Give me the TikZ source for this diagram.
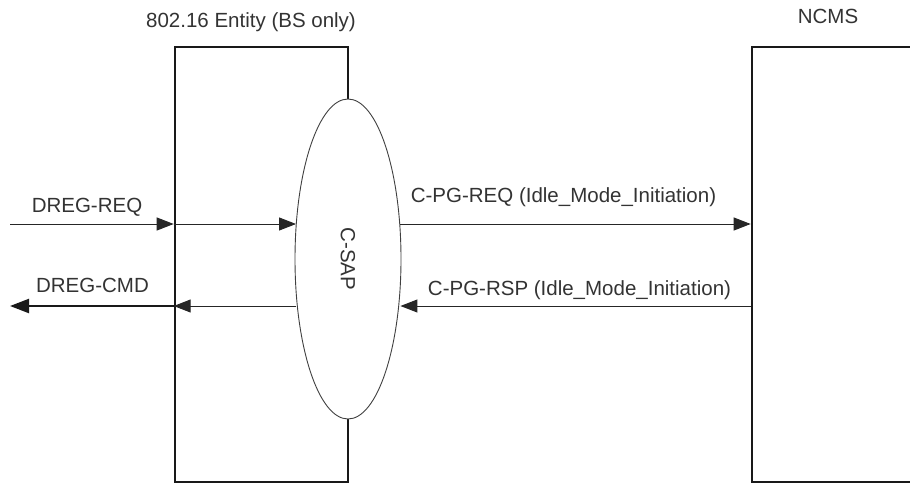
\documentclass[tikz,border=0pt]{standalone}
\usepackage{fontspec}
\setmainfont{Liberation Sans}
\usetikzlibrary{arrows.meta,shapes.geometric}
\begin{document}
\begin{tikzpicture}[x=1pt,y=-1pt,
  lbl/.style={text=black!80,font=\fontsize{20.5}{24}\selectfont,inner sep=0pt,anchor=base},
  entity/.style={draw=black!90,line width=2.6pt,rectangle,inner sep=0pt},
  sap/.style={draw=black!75,line width=0.9pt,fill=white,ellipse,inner sep=0pt,minimum width=106pt,minimum height=320pt},
  msg/.style={draw=black!85,line width=1pt,-{Triangle[length=17pt,width=13pt]}},
  msgthick/.style={draw=black!90,line width=2.2pt,-{Triangle[length=19pt,width=14pt]}}]
\useasboundingbox (0,0) rectangle (910,485);
\clip (0,0) rectangle (910,485);
% boxes
\node[entity,minimum width=173pt,minimum height=435pt] (bs) at (261.5,264.5) {};
\node[entity,minimum width=260pt,minimum height=435pt] (ncms) at (882,264.5) {};
\node[sap] (csap) at (348,259) {};
\node[lbl,anchor=center,rotate=-90] (csaptext) at (csap.center) {C-SAP};
% titles
\node[lbl] (bstitle) at (251,27) {802.16 Entity (BS only)};
\node[lbl] (ncmstitle) at (828,23) {NCMS};
% end points
\coordinate (reqin) at (10,224);
\coordinate (cmdout) at (10,306);
% messages
\draw[msg] (reqin) -- (bs.west |- reqin);
\draw[msg] (bs.west |- reqin) -- ([xshift=1.5pt]csap.west |- reqin);
\draw[msg] ([xshift=-1.5pt]csap.east |- reqin) -- (ncms.west |- reqin);
\draw[msg] (ncms.west |- cmdout) -- ([xshift=-1pt]csap.east |- cmdout);
\draw[msg] ([xshift=1pt]csap.west |- cmdout) -- (bs.west |- cmdout);
\draw[msgthick] (bs.west |- cmdout) -- (cmdout);
% labels
\node[lbl] (lreq) at (87,212) {DREG-REQ};
\node[lbl] (lcmd) at (92.5,292) {DREG-CMD};
\node[lbl] (lpgreq) at (563.5,202) {C-PG-REQ (Idle\_Mode\_Initiation)};
\node[lbl] (lpgrsp) at (579.5,295) {C-PG-RSP (Idle\_Mode\_Initiation)};
\end{tikzpicture}
\end{document}
